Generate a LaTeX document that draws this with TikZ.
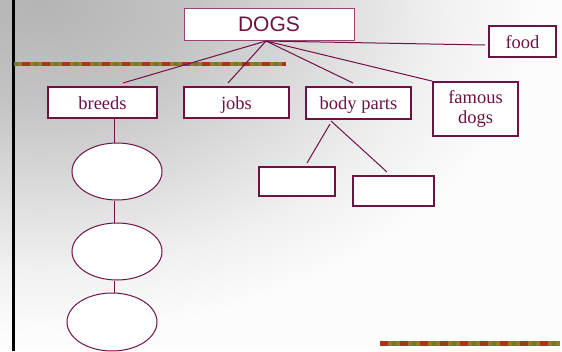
\documentclass[tikz,border=0pt]{standalone}
\usepackage{fontspec}
\setmainfont{Liberation Serif}
\newfontfamily\dogsans{Liberation Sans}
\usetikzlibrary{shapes.geometric,calc}
\definecolor{maroon}{RGB}{110,18,68}
\definecolor{maroonlt}{RGB}{150,70,110}
\definecolor{gA}{RGB}{180,180,180}
\definecolor{gB}{RGB}{195,195,195}
\definecolor{gC}{RGB}{222,222,222}
\definecolor{gD}{RGB}{240,240,240}
\definecolor{gE}{RGB}{252,252,252}
\definecolor{barc0}{RGB}{150,120,40}
\definecolor{barc1}{RGB}{190,110,30}
\definecolor{barc2}{RGB}{120,70,30}
\definecolor{barc3}{RGB}{165,55,30}
\definecolor{barc4}{RGB}{110,120,50}
\pgfdeclareradialshading{bgshade}{\pgfpoint{0bp}{0bp}}{color(0bp)=(gA); color(7.5bp)=(gB); color(15bp)=(gC); color(20bp)=(gD); color(25bp)=(gE); color(50bp)=(gE)}
\tikzset{
  box/.style={draw=maroon, line width=1.8pt, fill=white, inner sep=0pt, align=center,
    text=maroon, font=\fontsize{18.5}{20}\selectfont, text height=17pt, text depth=4pt},
  thinbox/.style={draw=maroonlt, line width=1pt, fill=white, inner sep=0pt},
  subbox/.style={draw=maroon, line width=1.3pt, fill=white, inner sep=0pt},
  ell/.style={ellipse, draw=maroon, line width=1pt, fill=white, inner sep=0pt},
  link/.style={draw=maroon, line width=1pt},
}
\begin{document}
\begin{tikzpicture}[x=1pt,y=-1pt]
\useasboundingbox (0,0) rectangle (562,351);
% background
\begin{scope}
\clip (0,0) rectangle (562,351);
\fill[gE] (0,0) rectangle (562,351);
\shade[shading=bgshade] (40,0) ellipse [x radius=500, y radius=335];
\end{scope}
\fill[black] (12,0) rectangle (15,351);
% decorative bars
\foreach \i [count=\c] in {14,18,...,284}{
  \pgfmathtruncatemacro\k{mod(\c*\c+3*\c,5)}
  \fill[barc\k] (\i,61.5) rectangle (\i+4,65.5);
}
\foreach \i [count=\c] in {380,384,...,558}{
  \pgfmathtruncatemacro\k{mod(\c*\c+2*\c,5)}
  \fill[barc\k] (\i,341) rectangle (\i+4,346);
}
% nodes
\node[thinbox, minimum width=170, minimum height=32, text=maroon, font=\dogsans\fontsize{21}{23}\selectfont] (dogs) at (269,24) {DOGS};
\node[box, minimum width=67, minimum height=31] (food) at (522.5,41.5) {food};
\node[box, minimum width=109, minimum height=31] (breeds) at (102.5,102.5) {breeds};
\node[box, minimum width=105, minimum height=31] (jobs) at (236.5,102.5) {jobs};
\node[box, minimum width=105, minimum height=32] (body) at (358.5,103) {body parts};
\node[box, minimum width=85, minimum height=54, text height=, text depth=] (famous) at (475.5,109) {famous\\dogs};
\node[ell, minimum width=90, minimum height=57] (e1) at (117,171.5) {};
\node[ell, minimum width=90, minimum height=57] (e2) at (117,251.5) {};
\node[ell, minimum width=90, minimum height=58] (e3) at (112,322) {};
\node[subbox, minimum width=76, minimum height=29] (s1) at (297,181.5) {};
\node[subbox, minimum width=81, minimum height=30] (s2) at (393.5,191) {};
% connector end points
\coordinate (hub) at (266,41);
\coordinate (tbreeds) at (123,83);
\coordinate (tjobs) at (228,83);
\coordinate (tbody) at (353,83);
\coordinate (tfood) at (485,45);
\coordinate (bp1) at (330,124);
\coordinate (bp2) at (331,121);
\coordinate (ts1) at (307,163);
\coordinate (ts2) at (387,172);
% connectors
\draw[link] (hub) -- (tbreeds);
\draw[link] (hub) -- (tjobs);
\draw[link] (hub) -- (tbody);
\draw[link] (hub) -- (famous.north west);
\draw[link] (hub) -- (tfood);
\draw[link] (bp1) -- (ts1);
\draw[link] (bp2) -- (ts2);
\draw[link] ([xshift=11.5]breeds.south) -- ([xshift=-3]e1.north);
\draw[link] ([xshift=-3]e1.south) -- ([xshift=-3]e2.north);
\draw[link] ([xshift=-3]e2.south) -- ([xshift=2]e3.north);
\end{tikzpicture}
\end{document}
